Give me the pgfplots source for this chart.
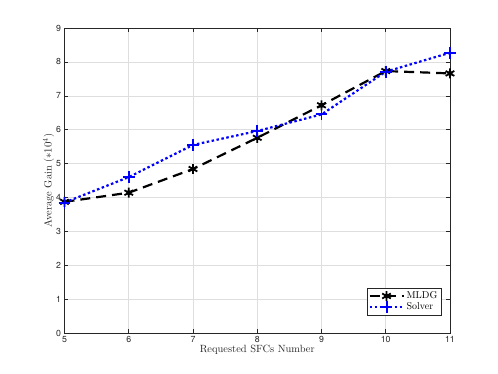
\documentclass[border=0pt]{standalone}
\usepackage{fontspec}
\setsansfont{TeX Gyre Heros}
\usepackage{pgfplots}
\pgfplotsset{compat=1.18}
\definecolor{axgray}{rgb}{0.15,0.15,0.15}
\definecolor{gridgray}{rgb}{0.87,0.87,0.87}

% MATLAB's thick '*' marker looks like a blob
\pgfdeclareplotmark{astblob}{%
  \pgfuseplotmark{asterisk}%
  \pgfpathcircle{\pgfpoint{0pt}{0pt}}{0.5\pgfplotmarksize}%
  \pgfusepathqfill}

\begin{document}
\begin{tikzpicture}
\begin{axis}[
  scale only axis,
  width=385.5bp, height=305bp,
  xmin=5, xmax=11, ymin=0, ymax=9,
  xtick={5,...,11}, ytick={0,...,9},
  tick align=inside,
  major tick length=4bp,
  grid=major,
  major grid style={gridgray, line width=0.5pt},
  axis line style={axgray, line width=0.6pt},
  every tick/.style={axgray, line width=0.5pt},
  tick label style={font=\sffamily\fontsize{8.8}{10}\selectfont, text=axgray},
  /pgf/number format/assume math mode=true,
  xlabel={Requested SFCs Number},
  ylabel={Average Gain ($*10^4$)},
  label style={font=\fontsize{10.5}{12}\selectfont, text=axgray},
  xlabel style={yshift=5bp},
  ylabel style={yshift=-5bp},
  legend style={at={(0.977,0.059)}, anchor=south east, draw=axgray, line width=0.5pt,
    font=\fontsize{10}{11}\selectfont, inner sep=1.5pt, row sep=-1.5pt},
  legend cell align=left,
  legend image code/.code={
    \draw[mark repeat=2,mark phase=2] plot coordinates {(0bp,0bp) (17bp,0bp) (34bp,0bp)};},
]
\addplot[black, line width=2.2pt, dash pattern=on 10bp off 6bp, mark=astblob, mark size=5pt,
  mark options={solid, line width=1.8pt}]
  coordinates {(5,3.87) (6,4.14) (7,4.84) (8,5.76) (9,6.72) (10,7.73) (11,7.66)};
\addlegendentry{MLDG}
\addplot[blue, line width=2.2pt, dash pattern=on 2.5bp off 2.5bp, mark=+, mark size=6pt,
  mark options={solid, line width=2pt}]
  coordinates {(5,3.85) (6,4.60) (7,5.55) (8,5.96) (9,6.45) (10,7.71) (11,8.27)};
\addlegendentry{Solver}
\end{axis}
\pgfresetboundingbox
\path (-64.5bp,-41bp) rectangle (433.5bp,333bp);
\end{tikzpicture}
\end{document}
